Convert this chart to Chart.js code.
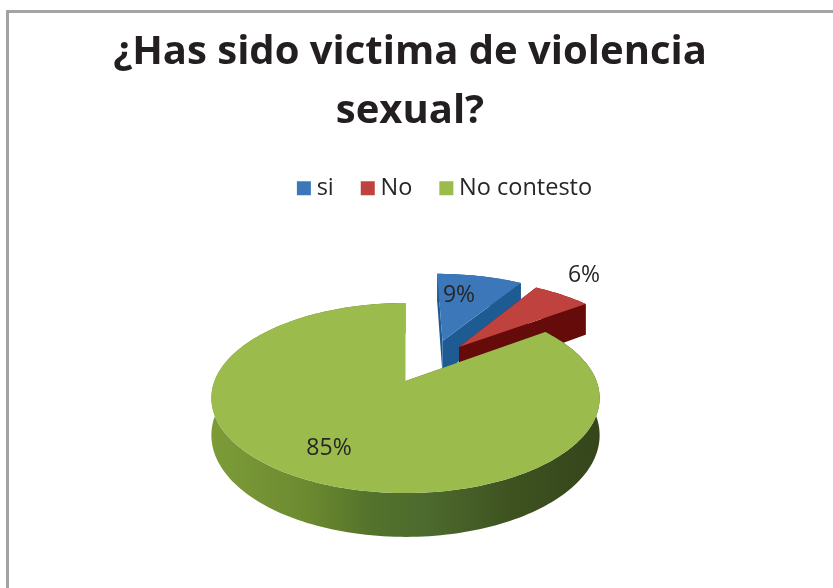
<!DOCTYPE html>
<html>
<head>
<meta charset="utf-8">
<title>Violencia sexual</title>
<script src="https://cdn.jsdelivr.net/npm/chart.js@4/dist/chart.umd.min.js"></script>
<style>
  html, body { margin: 0; background: #fff; overflow: hidden; }
  #frame { position: absolute; left: 6px; top: 10px; width: 827px; height: 578px;
           border-left: 3px solid #a3a3a3; border-top: 3px solid #a3a3a3; box-sizing: border-box; }
  canvas { position: absolute; left: 0; top: 0; }
</style>
</head>
<body>
<div id="frame"></div>
<canvas id="pie" width="820" height="588"></canvas>
<script>
const categories = ["si", "No", "No contesto"];
const values = [9, 6, 85];
const titleLines = ["¿Has sido victima de violencia", "sexual?"];

const topColors = ["#3c78b9", "#c0423e", "#9bbb4c"];
const wallColors = ["#1f5b93", "#650b09", null]; // green wall uses a gradient

// --- Perspective of the 3D pie (px) ---
const apexX = 405.5, apexY = 381;
const scaleX = 191, scaleY = 92, tilt = 0.179, depth = 36;
const sliceShift = [[0.21, 0.472], [0.3, 0.396], [0, 0]];
const labelSpots = [[459, 295], [584, 275], [329, 448]];

function project(u, v, down) {
  const w = 1 / (1 + tilt * v);
  return [apexX + scaleX * u * w, apexY - scaleY * v * w + depth * w * down];
}

function fillPoly(ctx, pts, color) {
  ctx.beginPath();
  pts.forEach((p, i) => (i ? ctx.lineTo(p[0], p[1]) : ctx.moveTo(p[0], p[1])));
  ctx.closePath();
  ctx.fillStyle = color;
  ctx.fill();
}

function drawSlice(ctx, arc, i) {
  const [su, sv] = sliceShift[i];
  const rim = [];
  const steps = Math.ceil((arc.endAngle - arc.startAngle) * 40);
  for (let s = 0; s <= steps; s++) {
    const a = arc.startAngle + (arc.endAngle - arc.startAngle) * s / steps;
    rim.push([su + Math.cos(a), sv - Math.sin(a)]);
  }
  const first = rim[0], last = rim[rim.length - 1];

  let wall = wallColors[i];
  if (!wall) {
    wall = ctx.createLinearGradient(210, 0, 598, 0);
    wall.addColorStop(0, "#7d9c38");
    wall.addColorStop(0.25, "#6c8a30");
    wall.addColorStop(0.42, "#53722b");
    wall.addColorStop(0.55, "#4d6b2e");
    wall.addColorStop(0.78, "#3e5220");
    wall.addColorStop(1, "#35461b");
  }
  // side walls: far radial, outer rim, near radial
  fillPoly(ctx, [project(su, sv, 0), project(first[0], first[1], 0), project(first[0], first[1], 1), project(su, sv, 1)], wall);
  fillPoly(ctx, rim.map(p => project(p[0], p[1], 0)).concat(rim.slice().reverse().map(p => project(p[0], p[1], 1))), wall);
  fillPoly(ctx, [project(su, sv, 0), project(last[0], last[1], 0), project(last[0], last[1], 1), project(su, sv, 1)], wall);

  // top face
  fillPoly(ctx, [project(su, sv, 0)].concat(rim.map(p => project(p[0], p[1], 0))), topColors[i]);
}

const pie3d = {
  id: "pie3d",
  afterLayout(chart) {
    // legend sits to the right of the title in the original
    chart.legend.left += 37.5;
    chart.legend.right += 37.5;
    chart.legend.top += 3;
    chart.legend.bottom += 3;
  },
  beforeDatasetDraw(chart) {
    const ctx = chart.ctx;
    ctx.save();
    chart.getDatasetMeta(0).data.forEach((arc, i) => drawSlice(ctx, arc, i));
    ctx.fillStyle = "#262626";
    ctx.font = "23px 'Open Sans'";
    ctx.textAlign = "center";
    ctx.textBaseline = "middle";
    values.forEach((v, i) => ctx.fillText(v + "%", labelSpots[i][0], labelSpots[i][1]));
    ctx.restore();
    return false;
  }
};

new Chart(document.getElementById("pie").getContext("2d"), {
  type: "pie",
  data: {
    labels: categories,
    datasets: [{ data: values, backgroundColor: topColors, borderWidth: 0 }]
  },
  plugins: [pie3d],
  options: {
    responsive: false,
    animation: false,
    plugins: {
      tooltip: { enabled: false },
      title: {
        display: true,
        text: titleLines,
        color: "#231f20",
        font: { family: "Open Sans", size: 40, weight: "bold", lineHeight: 1.47 },
        padding: { top: 23, bottom: 0 }
      },
      legend: {
        position: "top",
        labels: {
          color: "#262626",
          font: { family: "Open Sans", size: 23.5 },
          usePointStyle: true,
          pointStyle: "rect",
          boxWidth: 2,
          boxHeight: 14,
          padding: 33
        }
      }
    }
  }
});
</script>
</body>
</html>
